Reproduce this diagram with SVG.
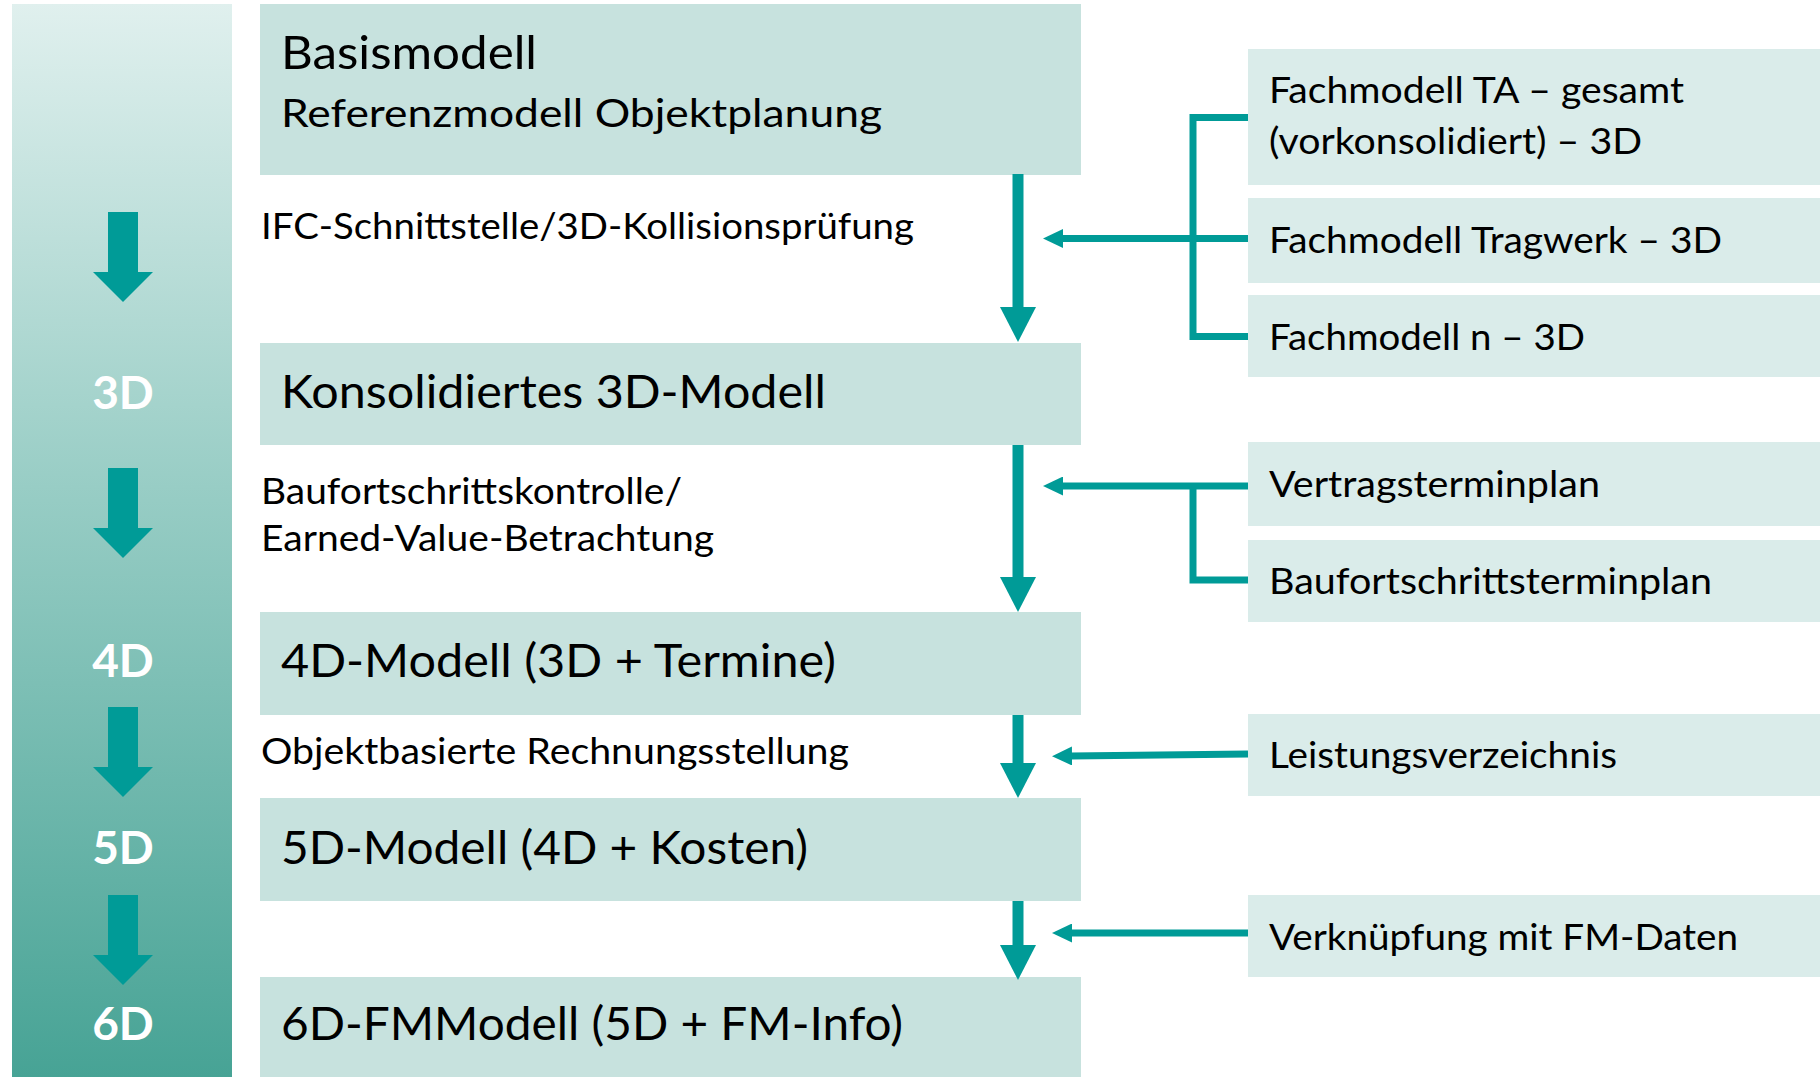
<svg xmlns="http://www.w3.org/2000/svg" width="1820" height="1077" viewBox="0 0 1820 1077">
<style>
.main{fill:#c7e2de}
.side{fill:#daecea}
.t{font-family:Lato,"Open Sans","Liberation Sans",sans-serif;fill:#000}
.big{font-size:47px}
.ref{font-size:39px}
.lbl{font-size:36px}
.rt{font-size:37px}
.dim{font-family:Lato,"Open Sans","Liberation Sans",sans-serif;font-size:46px;font-weight:bold;fill:#fff;text-anchor:middle}
.conn{fill:none;stroke:#009b97}
.v{stroke-width:11}
.h{stroke-width:7}
.bar-arrow{fill:#009b97}
</style>
<defs>
<linearGradient id="barGrad" x1="0" y1="0" x2="0" y2="1">
<stop offset="0" stop-color="#e0f0ee"/>
<stop offset="0.45" stop-color="#98cdc5"/>
<stop offset="1" stop-color="#47a395"/>
</linearGradient>
<marker id="headV" markerUnits="userSpaceOnUse" viewBox="0 0 35 36" markerWidth="35" markerHeight="36" refX="1" refY="18" orient="auto">
<path d="M0,0 L35,18 L0,36 Z" fill="#009b97"/>
</marker>
<marker id="headH" markerUnits="userSpaceOnUse" viewBox="0 0 20 19" markerWidth="20" markerHeight="19" refX="1" refY="9.5" orient="auto">
<path d="M0,0 L20,9.5 L0,19 Z" fill="#009b97"/>
</marker>
<path id="barArrow" d="M-15,0 H15 V60 H30 L0,90 L-30,60 H-15 Z"/>
</defs>

<g id="dimension-bar">
<rect x="12" y="4" width="220" height="1073" fill="url(#barGrad)"/>
<use href="#barArrow" class="bar-arrow" transform="translate(123,212)"/>
<use href="#barArrow" class="bar-arrow" transform="translate(123,468)"/>
<use href="#barArrow" class="bar-arrow" transform="translate(123,707)"/>
<use href="#barArrow" class="bar-arrow" transform="translate(123,895)"/>
<text class="dim" x="123" y="409">3D</text>
<text class="dim" x="123" y="677">4D</text>
<text class="dim" x="123" y="864">5D</text>
<text class="dim" x="123" y="1040">6D</text>
</g>

<g id="basismodell">
<rect class="main" x="260" y="4" width="821" height="171"/>
<text class="t big" x="281" y="69" textLength="256" lengthAdjust="spacingAndGlyphs">Basismodell</text>
<text class="t ref" x="281" y="127" textLength="601" lengthAdjust="spacingAndGlyphs">Referenzmodell Objektplanung</text>
</g>
<g id="konsolidiert">
<rect class="main" x="260" y="343" width="821" height="102"/>
<text class="t big" x="281" y="408" textLength="545" lengthAdjust="spacingAndGlyphs">Konsolidiertes 3D-Modell</text>
</g>
<g id="modell4d">
<rect class="main" x="260" y="612" width="821" height="103"/>
<text class="t big" x="281" y="677" textLength="555" lengthAdjust="spacingAndGlyphs">4D-Modell (3D + Termine)</text>
</g>
<g id="modell5d">
<rect class="main" x="260" y="798" width="821" height="103"/>
<text class="t big" x="281" y="864" textLength="527" lengthAdjust="spacingAndGlyphs">5D-Modell (4D + Kosten)</text>
</g>
<g id="modell6d">
<rect class="main" x="260" y="977" width="821" height="100"/>
<text class="t big" x="281" y="1040" textLength="622" lengthAdjust="spacingAndGlyphs">6D-FMModell (5D + FM-Info)</text>
</g>

<g id="step-labels">
<text class="t lbl" x="261" y="239" textLength="653" lengthAdjust="spacingAndGlyphs">IFC-Schnittstelle/3D-Kollisionsprüfung</text>
<text class="t lbl" x="261" y="504" textLength="421" lengthAdjust="spacingAndGlyphs">Baufortschrittskontrolle/</text>
<text class="t lbl" x="261" y="551" textLength="453" lengthAdjust="spacingAndGlyphs">Earned-Value-Betrachtung</text>
<text class="t lbl" x="261" y="764" textLength="588" lengthAdjust="spacingAndGlyphs">Objektbasierte Rechnungsstellung</text>
</g>

<g id="fachmodell-ta">
<rect class="side" x="1248" y="49" width="572" height="136"/>
<text class="t rt" x="1269" y="103" textLength="415" lengthAdjust="spacingAndGlyphs">Fachmodell TA – gesamt</text>
<text class="t rt" x="1269" y="154" textLength="373" lengthAdjust="spacingAndGlyphs">(vorkonsolidiert) – 3D</text>
</g>
<g id="fachmodell-tragwerk">
<rect class="side" x="1248" y="198" width="572" height="85"/>
<text class="t rt" x="1269" y="253" textLength="453" lengthAdjust="spacingAndGlyphs">Fachmodell Tragwerk – 3D</text>
</g>
<g id="fachmodell-n">
<rect class="side" x="1248" y="295" width="572" height="82"/>
<text class="t rt" x="1269" y="350" textLength="316" lengthAdjust="spacingAndGlyphs">Fachmodell n – 3D</text>
</g>
<g id="vertragsterminplan">
<rect class="side" x="1248" y="442" width="572" height="84"/>
<text class="t rt" x="1269" y="497" textLength="331" lengthAdjust="spacingAndGlyphs">Vertragsterminplan</text>
</g>
<g id="baufortschrittsterminplan">
<rect class="side" x="1248" y="540" width="572" height="82"/>
<text class="t rt" x="1269" y="594" textLength="443" lengthAdjust="spacingAndGlyphs">Baufortschrittsterminplan</text>
</g>
<g id="leistungsverzeichnis">
<rect class="side" x="1248" y="714" width="572" height="82"/>
<text class="t rt" x="1269" y="768" textLength="348" lengthAdjust="spacingAndGlyphs">Leistungsverzeichnis</text>
</g>
<g id="fm-daten">
<rect class="side" x="1248" y="895" width="572" height="82"/>
<text class="t rt" x="1269" y="950" textLength="469" lengthAdjust="spacingAndGlyphs">Verknüpfung mit FM-Daten</text>
</g>

<g id="connectors">
<line class="conn v" x1="1018" y1="174" x2="1018" y2="308" marker-end="url(#headV)"/>
<line class="conn v" x1="1018" y1="445" x2="1018" y2="578" marker-end="url(#headV)"/>
<line class="conn v" x1="1018" y1="715" x2="1018" y2="764" marker-end="url(#headV)"/>
<line class="conn v" x1="1018" y1="901" x2="1018" y2="946" marker-end="url(#headV)"/>
<path class="conn h" d="M1248,117.5 H1193 V336.5 H1248 M1248,238.5 H1193"/>
<line class="conn h" x1="1193" y1="238.5" x2="1062" y2="238.5" marker-end="url(#headH)"/>
<path class="conn h" d="M1248,580 H1193 V486"/>
<line class="conn h" x1="1248" y1="486" x2="1062" y2="486" marker-end="url(#headH)"/>
<line class="conn h" x1="1248" y1="754" x2="1071" y2="756" marker-end="url(#headH)"/>
<line class="conn h" x1="1248" y1="933" x2="1071" y2="933" marker-end="url(#headH)"/>
</g>
</svg>
